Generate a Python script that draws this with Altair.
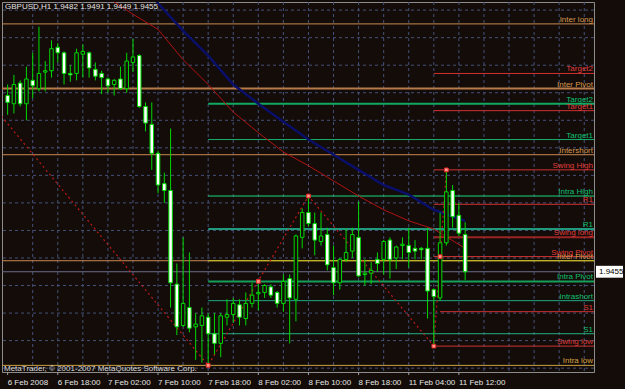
import altair as alt
import pandas as pd

# ---------------- data ----------------
bar_index = list(range(74))
opens = [1.9583,1.9577,1.9592,1.9577,1.9594,1.9588,1.9600,1.9601,1.9618,1.9614,
         1.9599,1.9599,1.9613,1.9614,1.9602,1.9599,1.9595,1.9591,1.9595,1.9588,
         1.9607,1.9612,1.9575,1.9562,1.9541,1.9519,1.9514,1.9446,1.9416,1.9429,
         1.9415,1.9416,1.9422,1.9410,1.9403,1.9422,1.9424,1.9431,1.9421,1.9432,
         1.9439,1.9440,1.9444,1.9440,1.9432,1.9450,1.9435,1.9480,1.9498,1.9490,
         1.9477,1.9482,1.9458,1.9447,1.9464,1.9470,1.9480,1.9453,1.9454,1.9464,
         1.9464,1.9478,1.9465,1.9474,1.9474,1.9472,1.9472,1.9472,1.9442,1.9436,
         1.9476,1.9514,1.9496,1.9482]
highs = [1.9591,1.9598,1.9594,1.9604,1.9614,1.9633,1.9608,1.9623,1.9621,1.9615,
         1.9605,1.9617,1.9620,1.9615,1.9607,1.9601,1.9596,1.9595,1.9604,1.9614,
         1.9624,1.9613,1.9578,1.9578,1.9543,1.9527,1.9559,1.9461,1.9480,1.9469,
         1.9425,1.9429,1.9425,1.9425,1.9425,1.9435,1.9436,1.9435,1.9440,1.9447,
         1.9448,1.9446,1.9446,1.9441,1.9453,1.9453,1.9482,1.9501,1.9510,1.9498,
         1.9498,1.9487,1.9474,1.9465,1.9486,1.9487,1.9506,1.9464,1.9462,1.9469,
         1.9478,1.9480,1.9474,1.9480,1.9487,1.9478,1.9473,1.9487,1.9443,1.9498,
         1.9529,1.9518,1.9505,1.9491]
lows = [1.9569,1.9570,1.9575,1.9565,1.9581,1.9586,1.9586,1.9596,1.9607,1.9591,
        1.9593,1.9594,1.9596,1.9596,1.9594,1.9584,1.9585,1.9583,1.9587,1.9585,
        1.9600,1.9574,1.9557,1.9529,1.9512,1.9505,1.9429,1.9409,1.9415,1.9411,
        1.9391,1.9389,1.9387,1.9395,1.9393,1.9416,1.9418,1.9416,1.9416,1.9429,
        1.9427,1.9436,1.9436,1.9429,1.9426,1.9403,1.9419,1.9472,1.9488,1.9467,
        1.9474,1.9456,1.9438,1.9442,1.9462,1.9465,1.9451,1.9445,1.9446,1.9455,
        1.9453,1.9450,1.9457,1.9464,1.9458,1.9464,1.9464,1.9421,1.9401,1.9434,
        1.9474,1.9487,1.9481,1.9449]
closes = [1.9578,1.9591,1.9577,1.9595,1.9590,1.9599,1.9601,1.9617,1.9614,1.9599,
          1.9598,1.9614,1.9615,1.9603,1.9597,1.9596,1.9590,1.9594,1.9588,1.9608,
          1.9611,1.9575,1.9563,1.9541,1.9518,1.9514,1.9447,1.9415,1.9432,1.9414,
          1.9417,1.9423,1.9410,1.9403,1.9423,1.9424,1.9432,1.9422,1.9432,1.9438,
          1.9440,1.9445,1.9438,1.9432,1.9448,1.9436,1.9481,1.9498,1.9490,1.9478,
          1.9481,1.9460,1.9447,1.9464,1.9469,1.9482,1.9452,1.9454,1.9456,1.9461,
          1.9477,1.9464,1.9473,1.9475,1.9469,1.9470,1.9471,1.9441,1.9437,1.9476,
          1.9513,1.9495,1.9483,1.9455]

x_tick_index = [0, 8, 16, 24, 32, 40, 48, 56, 64, 72]
x_tick_labels = ["6 Feb 2008", "6 Feb 18:00", "7 Feb 02:00", "7 Feb 10:00", "7 Feb 18:00",
                 "8 Feb 02:00", "8 Feb 10:00", "8 Feb 18:00", "11 Feb 04:00", "11 Feb 12:00"]
x_grid_index = list(range(4, 93, 4))
y_ticks = [1.9385, 1.9405, 1.9425, 1.9445, 1.9465, 1.9485, 1.9505, 1.9525,
           1.9545, 1.9565, 1.9585, 1.9605, 1.9625, 1.9645]

red_ma_index = [15, 16, 20, 24, 28, 32, 36, 40, 44, 48, 52, 56, 60, 64, 68, 73]
red_ma = [1.9657, 1.9654, 1.9642, 1.9631, 1.9609, 1.9591, 1.9571, 1.9556, 1.9542,
          1.9532, 1.9521, 1.9510, 1.9500, 1.9492, 1.9486, 1.9472]
blue_ma_index = [23, 24, 28, 32, 36, 40, 44, 48, 52, 56, 60, 64, 68, 73]
blue_ma = [1.9656, 1.9650, 1.9630, 1.9612, 1.9591, 1.9577, 1.9564, 1.9551, 1.9540,
           1.9529, 1.9518, 1.9511, 1.9500, 1.9492]

zigzag_index = [-1, 32, 48, 68, 70]
zigzag_price = [1.9568, 1.9387, 1.9510, 1.9401, 1.9529]
marker_index = [32, 40, 48, 68, 69, 70]
marker_price = [1.9387, 1.9448, 1.9510, 1.9401, 1.9466, 1.9529]

level_names = ["Inter long", "Target2", "Inter Pivot", "Target2", "Target1", "Target1",
               "Intershort", "Swing High", "Intra High", "R1", "R1", "Swing long",
               "Swing Pivot", "Inter Pivot", "", "", "Intra Pivot", "Intrashort", "S1", "S1",
               "Swing low", "Intra low"]
level_prices = [1.9635, 1.9599, 1.9588, 1.9577, 1.9572, 1.9551, 1.9540, 1.9529, 1.9510,
                1.9504, 1.9486, 1.9480, 1.9466, 1.9463, 1.9463, 1.9455, 1.9448, 1.9434,
                1.9426, 1.9410, 1.9401, 1.9387]
level_start = [-1, 68, -1, 32, 68, 32, -1, 68, 32, 68, 32, 68, 68, -1, 32, -1, 32, 32, 69, 32, 68, -1]
level_colors = ["#C98A52", "#D03232", "#B87A48", "#12A860", "#D03232", "#18B070",
                "#C98A52", "#D03232", "#1ED67A", "#D03232", "#209A7C", "#9A2424",
                "#D03232", "#C98A52", "#C8C81E", "#6E6E8E", "#14A05A", "#20A888",
                "#D03232", "#20B080", "#D03232", "#C8A040"]
level_widths = [1, 1, 2, 2, 1, 1, 1, 1, 1, 1, 2, 2, 1, 1, 1, 1, 2, 1, 1, 1, 1, 1]
label_colors = ["#D8984E", "#E03C3C", "#D8984E", "#10C070", "#E03C3C", "#10C070",
                "#D8984E", "#E03C3C", "#10C070", "#E03C3C", "#10C070", "#E03C3C",
                "#E03C3C", "#D8984E", "#C8C81E", "#6E6E8E", "#10C070", "#10C070",
                "#E03C3C", "#10C070", "#E03C3C", "#D8A040"]

symbol = "GBPUSD,H1"
copyright_text = "MetaTrader, © 2001-2007 MetaQuotes Software Corp."

# ---------------- styling ----------------
BG = "#130C08"
GREEN = "#00D800"
GRID = "#46527A"
TEXT = "#E6E6E6"
FONT = "Liberation Sans"
X_MAX = 92.76

xs = alt.Scale(domain=[-0.1, X_MAX], nice=False, zero=False)
ys = alt.Scale(domain=[1.93822, 1.96509], nice=False, zero=False)

candles = pd.DataFrame({"i": bar_index, "o": opens, "h": highs, "l": lows, "c": closes})
levels = pd.DataFrame({"name": level_names, "p": level_prices, "s": level_start,
                       "col": level_colors, "w": level_widths, "lc": label_colors})
levels["e"] = X_MAX + 1

hgrid = alt.Chart(pd.DataFrame({"p": y_ticks})).mark_rule(
    color=GRID, strokeDash=[3, 3], strokeWidth=1
).encode(
    y=alt.Y("p:Q", scale=ys, axis=alt.Axis(
        orient="right", values=y_ticks, format=".4f", title=None, grid=False,
        domain=False, tickColor="#A0A0A0", tickSize=3, labelPadding=2,
        labelColor=TEXT, labelFont=FONT, labelFontSize=8, labelAlign="left",
        labelBaseline="middle"))
)
vgrid = alt.Chart(pd.DataFrame({"i": x_grid_index})).mark_rule(
    color=GRID, strokeDash=[3, 3], strokeWidth=1
).encode(x=alt.X("i:Q", scale=xs, axis=None))

lev_lines = alt.Chart(levels).mark_rule(clip=True).encode(
    x=alt.X("s:Q", scale=xs, axis=None), x2="e:Q",
    y=alt.Y("p:Q", scale=ys, axis=None),
    color=alt.Color("col:N", scale=None),
    strokeWidth=alt.StrokeWidth("w:Q", scale=None),
)
lev_text = alt.Chart(levels).mark_text(
    align="right", baseline="alphabetic", dy=-2, font=FONT, fontSize=8
).encode(
    x=alt.value(591),
    y=alt.Y("p:Q", scale=ys, axis=None),
    text="name:N",
    color=alt.Color("lc:N", scale=None),
)

red_line = alt.Chart(pd.DataFrame({"i": red_ma_index, "p": red_ma})).mark_line(
    color="#B01212", strokeWidth=1, clip=True
).encode(x=alt.X("i:Q", scale=xs, axis=None), y=alt.Y("p:Q", scale=ys, axis=None))
blue_line = alt.Chart(pd.DataFrame({"i": blue_ma_index, "p": blue_ma})).mark_line(
    color="#0A0F6A", strokeWidth=2.5, clip=True
).encode(x=alt.X("i:Q", scale=xs, axis=None), y=alt.Y("p:Q", scale=ys, axis=None))
zz_line = alt.Chart(pd.DataFrame({"i": zigzag_index, "p": zigzag_price})).mark_line(
    color="#C01818", strokeWidth=1.2, strokeDash=[2, 3], clip=True
).encode(x=alt.X("i:Q", scale=xs, axis=None), y=alt.Y("p:Q", scale=ys, axis=None))

wicks = alt.Chart(candles).mark_rule(color=GREEN, strokeWidth=1).encode(
    x=alt.X("i:Q", scale=xs, axis=None),
    y=alt.Y("l:Q", scale=ys, axis=None), y2="h:Q")
bodies = alt.Chart(candles).mark_bar(size=3.5, stroke=GREEN, strokeWidth=1).encode(
    x=alt.X("i:Q", scale=xs, axis=None),
    y=alt.Y("o:Q", scale=ys, axis=None), y2="c:Q",
    fill=alt.condition("datum.c > datum.o", alt.value(BG), alt.value("#FFFFFF")))

markers = alt.Chart(pd.DataFrame({"i": marker_index, "p": marker_price})).mark_point(
    shape="square", filled=True, size=14, color="#FF9A8A", stroke="#E02828",
    strokeWidth=1, opacity=1
).encode(x=alt.X("i:Q", scale=xs, axis=None), y=alt.Y("p:Q", scale=ys, axis=None))

last_close = closes[-1]
price_box = alt.Chart(pd.DataFrame({"p": [last_close]})).mark_point(
    shape="M-1,-0.44L1,-0.44L1,0.44L-1,0.44Z", size=729, filled=True,
    color="#FFFFFF", opacity=1
).encode(x=alt.value(607.5), y=alt.Y("p:Q", scale=ys, axis=None))
price_text = alt.Chart(pd.DataFrame({"p": [last_close], "t": [f"{last_close:.4f}"]})).mark_text(
    align="left", baseline="middle", font=FONT, fontSize=8, color="#000000"
).encode(x=alt.value(597), y=alt.Y("p:Q", scale=ys, axis=None), text="t:N")

xlab = alt.Chart(pd.DataFrame({"i": x_tick_index, "t": x_tick_labels})).mark_text(
    align="left", baseline="middle", font=FONT, fontSize=8, color=TEXT
).encode(x=alt.X("i:Q", scale=xs, axis=None), y=alt.value(381), text="t:N")
xticks = alt.Chart(pd.DataFrame({"i": x_tick_index})).mark_rule(color="#A0A0A0").encode(
    x=alt.X("i:Q", scale=xs, axis=None), y=alt.value(370), y2=alt.value(373))

title_str = f"{symbol}  {opens[-1]:.4f} {highs[-1]:.4f} {lows[-1]:.4f} {closes[-1]:.4f}"
title_t = alt.Chart(pd.DataFrame({"t": [title_str]})).mark_text(
    align="left", baseline="middle", font=FONT, fontSize=8, color=TEXT
).encode(x=alt.value(3), y=alt.value(5), text="t:N")
foot_t = alt.Chart(pd.DataFrame({"t": [copyright_text]})).mark_text(
    align="left", baseline="middle", font=FONT, fontSize=8, color="#D8D8D8"
).encode(x=alt.value(2), y=alt.value(367), text="t:N")

chart = alt.layer(
    hgrid, vgrid, lev_lines, red_line, blue_line, zz_line, wicks, bodies, markers,
    lev_text, price_box, price_text, xlab, xticks, title_t, foot_t
).properties(
    width=592, height=370, background=BG,
    padding={"left": 2, "top": 2, "right": 31, "bottom": 17},
    autosize=alt.AutoSizeParams(type="none"),
).configure_view(stroke="#8C8C8C", strokeWidth=1)

chart.save("out.html", embed_options={"renderer": "svg", "actions": False})
